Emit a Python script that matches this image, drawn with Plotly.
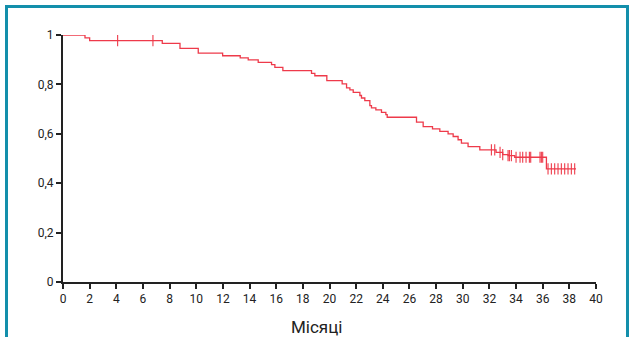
import plotly.graph_objects as go

# Kaplan-Meier step curve: event times (months) and survival after each step
step_times = [0, 1.65, 2.0, 7.45, 8.78, 10.15, 11.98, 13.3, 13.9, 14.65, 15.65, 15.9,
              16.5, 18.65, 18.9, 19.8, 20.95, 21.28, 21.53, 21.78, 22.28, 22.4, 22.65,
              23.03, 23.15, 23.48, 23.9, 24.23, 24.33, 26.53, 27.03, 27.73, 28.28, 28.9,
              29.28, 29.65, 29.9, 30.4, 31.28, 32.5, 33.0, 33.4, 33.9, 36.28]
step_surv = [1.0, 0.988, 0.977, 0.966, 0.946, 0.927, 0.916, 0.907, 0.899, 0.889, 0.880, 0.869,
             0.856, 0.845, 0.835, 0.815, 0.802, 0.786, 0.778, 0.768, 0.755, 0.745, 0.734,
             0.714, 0.705, 0.697, 0.687, 0.678, 0.667, 0.647, 0.629, 0.620, 0.610, 0.600,
             0.589, 0.576, 0.562, 0.548, 0.535, 0.525, 0.516, 0.512, 0.505, 0.458]
end_time = 38.5

# censored observations (months)
censor_times = [4.1, 6.75, 32.15, 32.4, 32.8, 33.0, 33.4, 33.5, 33.65, 34.0, 34.3, 34.5,
                34.75, 35.0, 35.1, 35.8, 35.9, 36.0, 36.4, 36.65, 36.9, 37.15, 37.4,
                37.65, 37.9, 38.15, 38.4]

x_ticks = list(range(0, 41, 2))
y_ticks = [0, 0.2, 0.4, 0.6, 0.8, 1]
y_tick_labels = ["0", "0,2", "0,4", "0,6", "0,8", "1"]
x_title = "Місяці"


def surv_at(t):
    s = step_surv[0]
    for tt, ss in zip(step_times, step_surv):
        if tt <= t:
            s = ss
    return s


line_x = step_times + [end_time]
line_y = step_surv + [step_surv[-1]]
censor_y = [surv_at(t) for t in censor_times]

red = "#ee3a4a"

fig = go.Figure()
fig.add_trace(go.Scatter(x=line_x, y=line_y, mode="lines", line=dict(color=red, width=1.3, shape="hv"),
                         cliponaxis=False, hoverinfo="skip"))
fig.add_trace(go.Scatter(x=censor_times, y=censor_y, mode="markers",
                         marker=dict(symbol="line-ns", size=8, line=dict(color=red, width=1.1)),
                         cliponaxis=False, hoverinfo="skip"))

axis_font = dict(family="Roboto, DejaVu Sans", size=12, color="#222222")
fig.update_layout(
    width=629, height=337,
    margin=dict(l=63, r=33, t=35, b=55),
    paper_bgcolor="white", plot_bgcolor="white",
    showlegend=False,
    xaxis=dict(range=[0, 40], tickvals=x_ticks, ticks="outside", ticklen=5, tickwidth=2,
               tickcolor="#222", showline=True, linecolor="#222", linewidth=2,
               showgrid=False, zeroline=False, tickfont=axis_font),
    yaxis=dict(range=[0, 1], tickvals=y_ticks, ticktext=y_tick_labels, ticks="outside",
               ticklen=5, tickwidth=2, tickcolor="#222", showline=True, linecolor="#222",
               linewidth=2, showgrid=False, zeroline=False, tickfont=axis_font),
    annotations=[dict(text=x_title, xref="paper", yref="paper", x=(316.5 - 63) / 533,
                      y=(282 - 327) / 247, xanchor="center", yanchor="middle", showarrow=False,
                      font=dict(family="Roboto, DejaVu Sans", size=17, color="#222"))],
)

# teal frame around chart (bottom edge cut off)
frame_color = "#138fab"
def px_to_paper_x(px):
    return (px - 63) / 533
def px_to_paper_y(py):
    return (282 - py) / 247

fig.add_shape(type="line", xref="paper", yref="paper",
              x0=px_to_paper_x(6.5), x1=px_to_paper_x(6.5),
              y0=px_to_paper_y(6.5), y1=px_to_paper_y(345), line=dict(color=frame_color, width=3))
fig.add_shape(type="line", xref="paper", yref="paper",
              x0=px_to_paper_x(5), x1=px_to_paper_x(629),
              y0=px_to_paper_y(6.5), y1=px_to_paper_y(6.5), line=dict(color=frame_color, width=3))
fig.add_shape(type="line", xref="paper", yref="paper",
              x0=px_to_paper_x(627.5), x1=px_to_paper_x(627.5),
              y0=px_to_paper_y(6.5), y1=px_to_paper_y(345), line=dict(color=frame_color, width=3))

fig.write_html("out.html", config={"displayModeBar": False},
               post_script="document.body.style.margin='0';document.body.style.overflow='hidden';")
